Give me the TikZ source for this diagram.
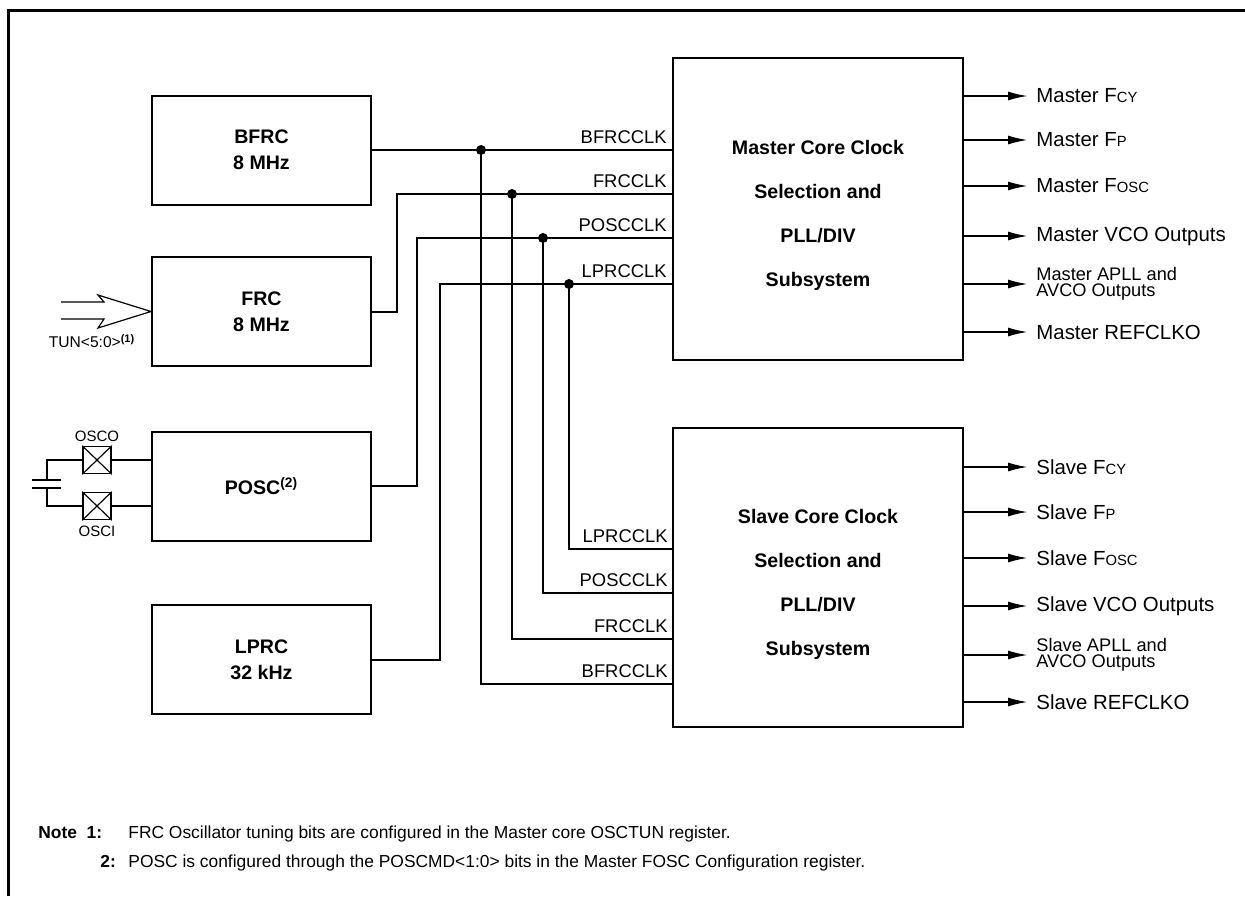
\documentclass[tikz,border=0pt]{standalone}
\usepackage{fontspec}
\setmainfont{Liberation Sans}
\usetikzlibrary{arrows.meta}
\begin{document}
\begin{tikzpicture}[x=0.5pt,y=-0.5pt,
  wire/.style={line width=1pt},
  osc/.style={draw, line width=1pt, minimum width=109.5pt, minimum height=54.5pt, inner sep=0pt,
     font=\bfseries\fontsize{9.8}{13}\selectfont, align=center},
  core/.style={draw, line width=1pt, minimum width=145pt, inner sep=0pt},
  coretxt/.style={font=\bfseries\fontsize{9.8}{22}\selectfont, align=center},
  clk/.style={font=\fontsize{9.2}{11}\selectfont, anchor=south east, inner sep=0pt},
  outl/.style={font=\fontsize{10.2}{11}\selectfont, anchor=west, inner sep=0pt},
  outtwo/.style={font=\fontsize{9.1}{7.9}\selectfont, anchor=west, inner sep=0pt, align=left},
  arr/.style={wire, -{Latex[length=10pt,width=4.5pt]}},
  dot/.style={circle, fill, inner sep=0pt, minimum size=5pt},
  xbox/.style={draw, line width=0.8pt, minimum width=14pt, minimum height=13.5pt, inner sep=0pt},
  note/.style={font=\fontsize{8.7}{10}\selectfont, anchor=base west, inner sep=0pt}]
\useasboundingbox (0,0) rectangle (1245,896);
% frame
\draw[line width=1.5pt] (8,896) -- (8,10) -- (1245,10);

% oscillator boxes
\node[osc] (bfrc) at (261.5,150) {BFRC\\8 MHz};
\node[osc] (frc)  at (261.5,311.5) {FRC\\8 MHz};
\node[osc] (posc) at (261.5,486) {POSC\textsuperscript{(2)}};
\node[osc] (lprc) at (261.5,659.5) {LPRC\\32 kHz};

% core boxes
\node[core, minimum height=151pt] (master) at (818,209) {};
\node[coretxt] (mtxt) at (818,215) {Master Core Clock\\Selection and\\PLL/DIV\\Subsystem};
\node[core, minimum height=149.5pt] (slave) at (818,577.5) {};
\node[coretxt] (stxt) at (818,584) {Slave Core Clock\\Selection and\\PLL/DIV\\Subsystem};

% bus coordinates
\coordinate (fb) at (397,194);
\coordinate (pb) at (417,238);
\coordinate (lb) at (440,284);
\node[dot] (jb) at (481,150) {};
\node[dot] (jf) at (512,194) {};
\node[dot] (jp) at (543,238) {};
\node[dot] (jl) at (569,284) {};

% master inputs
\draw[wire] (bfrc.east) -- (master.west |- bfrc.east);
\draw[wire] (frc.east) -| (fb) -- (master.west |- fb);
\draw[wire] (posc.east) -| (pb) -- (master.west |- pb);
\draw[wire] (lprc.east) -| (lb) -- (master.west |- lb);

% slave inputs
\coordinate (sl) at (673,549);
\coordinate (sp) at (673,593);
\coordinate (sf) at (673,639);
\coordinate (sb) at (673,684);
\draw[wire] (jl.center) |- (sl);
\draw[wire] (jp.center) |- (sp);
\draw[wire] (jf.center) |- (sf);
\draw[wire] (jb.center) |- (sb);

% clock labels
\node[clk] (mlb) at ([xshift=-2.5pt,yshift=3pt]master.west |- bfrc.east) {BFRCCLK};
\node[clk] (mlf) at ([xshift=-2.5pt,yshift=3pt]master.west |- fb) {FRCCLK};
\node[clk] (mlp) at ([xshift=-2.5pt,yshift=3pt]master.west |- pb) {POSCCLK};
\node[clk] (mll) at ([xshift=-2.5pt,yshift=3pt]master.west |- lb) {LPRCCLK};
\node[clk] (sll) at ([xshift=-2.5pt,yshift=3pt]sl) {LPRCCLK};
\node[clk] (slp) at ([xshift=-2.5pt,yshift=3pt]sp) {POSCCLK};
\node[clk] (slf) at ([xshift=-2.5pt,yshift=3pt]sf) {FRCCLK};
\node[clk] (slb) at ([xshift=-2.5pt,yshift=3pt]sb) {BFRCCLK};

% outputs master
\newcommand{\smc}[1]{{\fontsize{7.4}{8}\selectfont #1}}
\node[outl] (mo1) at (1036,96) {Master F\smc{CY}};
\node[outl] (mo2) at (1036,140) {Master F\smc{P}};
\node[outl] (mo3) at (1036,186) {Master F\smc{OSC}};
\node[outl] (mo4) at (1036,236) {Master VCO Outputs};
\node[outtwo] (mo5) at (1036,284) {Master APLL and\\AVCO Outputs};
\node[outl] (mo6) at (1036,332) {Master REFCLKO};
\foreach \i in {1,...,6}{\draw[arr] (master.east |- mo\i.west) -- ([xshift=-4pt]mo\i.west);}
% outputs slave
\node[outl] (so1) at (1036,467) {Slave F\smc{CY}};
\node[outl] (so2) at (1036,512) {Slave F\smc{P}};
\node[outl] (so3) at (1036,558) {Slave F\smc{OSC}};
\node[outl] (so4) at (1036,606) {Slave VCO Outputs};
\node[outtwo] (so5) at (1036,655) {Slave APLL and\\AVCO Outputs};
\node[outl] (so6) at (1036,702) {Slave REFCLKO};
\foreach \i in {1,...,6}{\draw[arr] (slave.east |- so\i.west) -- ([xshift=-4pt]so\i.west);}

% TUN input arrow
\draw[line width=0.6pt] (61,302) -- (104,302) -- (98,295) -- (frc.west) -- (98,328) -- (104,319) -- (61,319);
\node[font=\fontsize{7.8}{10}\selectfont, inner sep=0pt] (tun) at (92,341) {TUN<5:0>\textsuperscript{\bfseries (1)}};

% crystal
\node[xbox] (osco) at (97,460) {};
\node[xbox] (osci) at (97,506) {};
\draw[line width=0.6pt] (osco.north west) -- (osco.south east) (osco.north east) -- (osco.south west);
\draw[line width=0.6pt] (osci.north west) -- (osci.south east) (osci.north east) -- (osci.south west);
\node[font=\fontsize{7.5}{9}\selectfont, inner sep=0pt] (loso) at (97,436) {OSCO};
\node[font=\fontsize{7.5}{9}\selectfont, inner sep=0pt] (losi) at (97,531) {OSCI};
\coordinate (ct) at (47,480);
\coordinate (cb) at (47,488);
\draw[wire] (osco.west) -| (ct);
\draw[wire] (osci.west) -| (cb);
\draw[wire] (32,480) -- (61,480);
\draw[wire] (32,488) -- (61,488);
\draw[wire] (osco.east) -- (posc.west |- osco.east);
\draw[wire] (osci.east) -- (posc.west |- osci.east);

% notes
\node[note, font=\bfseries\fontsize{8.7}{10}\selectfont] (n1l) at (38,838) {Note\ \ 1:};
\node[note] (n1) at (128,838) {FRC Oscillator tuning bits are configured in the Master core OSCTUN register.};
\node[note, font=\bfseries\fontsize{8.7}{10}\selectfont] (n2l) at (100,867) {2:};
\node[note] (n2) at (128,867) {POSC is configured through the POSCMD<1:0> bits in the Master FOSC Configuration register.};
\end{tikzpicture}
\end{document}
